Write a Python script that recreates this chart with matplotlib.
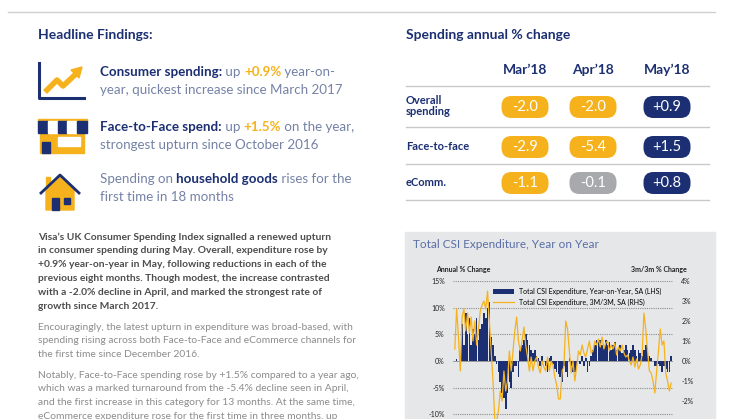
import matplotlib.pyplot as plt
import matplotlib
import numpy as np
from matplotlib.patches import FancyBboxPatch, Rectangle, Polygon

matplotlib.rcParams['font.family'] = 'Lato'

NAVY = '#1b2f72'
GOLD = '#f6b21c'
GREY = '#a7a9ac'
SLATE = '#7582a6'
BODY = '#4d4d4f'
LIGHT = '#8c8c8e'

# ---- data ----
months = ["Mar'18", "Apr'18", "May'18"]
rows = ['Overall\nspending', 'Face-to-face', 'eComm.']
table_vals = [[-2.0, -2.0, 0.9],
              [-2.9, -5.4, 1.5],
              [-1.1, -0.1, 0.8]]

yoy = [0, 0.3, 0, 0,
       7, 3, 9, 5, 8, 3, 6, 5, 8, 4, 6, 7, 9, 8, 10, 11,
       4.5, 3, 1, -0.5,
       -2, -4, -6, -7, -9, -6, -4, -5, -2, -1, -1, -3,
       2, 3, 4, 5, 4, 3, 2, 1.5, 2, 1,
       0.5, -1, 1, 0, -1, -2, 0.5, 1, -0.5, -1.5, -2, -2.5,
       -3, -4, -1, -2, -3, 0.5, -1, -2, -2,
       -1, 0, -0.5, 1, -1, 0.5, -2, -1, 1,
       2, 3, 4, 3.5, 4, 3, 2.5, 4, 3, 3.5, 2, 3, 3.5, 2, 2.5, 3, 1.5, 2, 3, 2,
       1.5, 2, 3, 2, 1, 2, 1.5, 1,
       2, 3, 2.5, 1, 0.5, 0, -1,
       -1, -0.5, -1, -2, -1, -1.5, -2, -2,
       0.9]
m3m = [0.6, 2.6, 1.2, -0.5,
       2.2, 2.6, 1.5, 2.4, 1.4, 2.2, 1.0, 2.0, 0.8, 1.6, 2.5, 2.8, 3.0, 2.6, 3.5, 2.0,
       0.5, -1.0, -3.0, -3.0,
       -2.5, -1.5, -2.0, -0.5, -1.5, -1.0, 0.5, -0.5, 0.5, 1.5, 2.2, 1.0,
       0.5, 1.0, 1.7, 0.8, 0.2, -0.5, 0.2, -0.5, 0.0, 0.2,
       -0.3, -0.6, 0.0, -0.3, -0.5, 0.2, -0.5, 0.0, -0.2, -0.8, -1.2, -1.9,
       -1.9, -0.5, -0.3, 2.0, 1.6, 0.5, -0.6, 0.0, -1.0,
       -0.3, 0.5, 0.3, 0.8, 0.4, 0.2, 0.6, 1.0, 0.4,
       0.5, 1.0, 0.8, 1.1, 0.7, 1.2, 0.6, 0.9, 1.0, 0.5, 0.8, 0.6, 0.9, 0.3, 0.7, 0.5, 0.8, 0.4, 0.2, 0.3,
       0.0, -0.2, 0.2, -0.3, 0.1, -0.4, -0.2, 0.3,
       2.4, 1.6, 0.5, -0.5, -0.6, -1.0, -1.6,
       -0.5, 0.5, 1.6, 0.8, 1.0, -0.6, -1.0, -1.5,
       -1.1]

W, H = 746, 419
fig = plt.figure(figsize=(7.46, 4.19), dpi=100)
fig.patch.set_facecolor('white')

# overlay axes in pixel units (y downwards) for the layout
lay = fig.add_axes([0, 0, 1, 1])
lay.set_xlim(0, W)
lay.set_ylim(H, 0)
lay.axis('off')


def T(x, y, s, **kw):
    kw.setdefault('va', 'center')
    return lay.text(x, y, s, **kw)


def chain(x, y, parts, size):
    # draw text pieces one after another on a line
    r = fig.canvas.get_renderer()
    for s, color, weight in parts:
        t = T(x, y, s, color=color, fontweight=weight, fontsize=size)
        bb = t.get_window_extent(renderer=r)
        x += bb.width


# top rule
lay.plot([8, 715], [12, 12], color='#cfd0d2', lw=1)

# ---- left headline block ----
T(38, 35, 'Headline Findings:', color=NAVY, fontweight='bold', fontsize=10)
sz = 9.6
chain(100, 72, [('Consumer spending:', NAVY, 'bold'), (' up ', SLATE, 'normal'),
                ('+0.9%', GOLD, 'bold'), (' year-on-', SLATE, 'normal')], sz)
T(100, 90, 'year, quickest increase since March 2017', color=SLATE, fontsize=sz)
chain(100, 127, [('Face-to-Face spend:', NAVY, 'bold'), (' up ', SLATE, 'normal'),
                 ('+1.5%', GOLD, 'bold'), (' on the year,', SLATE, 'normal')], sz)
T(100, 145, 'strongest upturn since October 2016', color=SLATE, fontsize=sz)
chain(100, 179, [('Spending on ', SLATE, 'normal'), ('household goods', NAVY, 'bold'),
                 (' rises for the', SLATE, 'normal')], sz)
T(100, 197, 'first time in 18 months', color=SLATE, fontsize=sz)

# icons (simple shapes)
lay.plot([39, 39, 84], [63, 98, 98], color=NAVY, lw=2.2)
lay.plot([45, 57, 63, 77], [92, 80, 86, 73], color=GOLD, lw=4, solid_capstyle='butt')
lay.add_patch(Polygon([[71, 70], [82, 67], [79, 78]], closed=True, color=GOLD))
lay.add_patch(Rectangle((40, 133), 44, 20, color=GOLD))
lay.add_patch(Rectangle((38, 119), 49, 3, color=GOLD))
for i in range(5):
    c = NAVY if i % 2 == 0 else 'white'
    lay.add_patch(Rectangle((38 + i * 9.8, 121), 9.8, 12, color=c))
lay.add_patch(Rectangle((42, 142), 8, 11, color=NAVY))
lay.add_patch(Rectangle((58, 137), 22, 9, color='white'))
lay.add_patch(Polygon([[46, 189], [60, 176], [74, 189], [74, 210], [46, 210]], closed=True, color=GOLD))
lay.add_patch(Rectangle((46, 177), 4, 8, color=GOLD))
lay.plot([41, 60, 79], [193, 175, 193], color=NAVY, lw=2)
lay.add_patch(Rectangle((52, 198), 7, 12, color=NAVY))
lay.add_patch(Rectangle((64, 198), 6, 6, color=NAVY))

# body paragraphs
bold_lines = ["Visa\u2019s UK Consumer Spending Index signalled a renewed upturn",
              "in consumer spending during May. Overall, expenditure rose by",
              "+0.9% year-on-year in May, following reductions in each of the",
              "previous eight months. Though modest, the increase contrasted",
              "with a -2.0% decline in April, and marked the strongest rate of",
              "growth since March 2017."]
for i, s in enumerate(bold_lines):
    T(38, 237 + i * 13.9, s, color=BODY, fontweight='bold', fontsize=7.4)
p2 = ["Encouragingly, the latest upturn in expenditure was broad-based, with",
      "spending rising across both Face-to-Face and eCommerce channels for",
      "the first time since December 2016."]
for i, s in enumerate(p2):
    T(38, 327 + i * 13.9, s, color=LIGHT, fontsize=7.4)
p3 = ["Notably, Face-to-Face spending rose by +1.5% compared to a year ago,",
      "which was a marked turnaround from the -5.4% decline seen in April,",
      "and the first increase in this category for 13 months. At the same time,"]
for i, s in enumerate(p3):
    T(38, 375 + i * 13.9, s, color=LIGHT, fontsize=7.4)
# last line is cut by the page edge in the reference
T(38, 416.7, "eCommerce expenditure rose for the first time in three months, up",
  color=LIGHT, fontsize=7.4, clip_on=True)

# ---- right table ----
T(406, 35, 'Spending annual % change', color=NAVY, fontweight='bold', fontsize=10)
col_x = [525, 593, 667]
row_y = [107, 147, 183]
for x, m in zip(col_x, months):
    T(x, 70, m.replace("'", "\u2019"), color=NAVY, fontweight='bold', fontsize=10, ha='center')
for y in [86, 127, 164, 200]:
    lay.plot([406, 709], [y, y], color='#c8c9cb', lw=1)
for r, (lab, y) in enumerate(zip(rows, row_y)):
    T(406, y - 1, lab, color=NAVY, fontweight='bold', fontsize=8, linespacing=0.95)
    for c, x in enumerate(col_x):
        v = table_vals[r][c]
        if c == 2:
            col = NAVY
        elif abs(v) < 0.5:
            col = GREY
        else:
            col = GOLD
        lay.add_patch(FancyBboxPatch((x - 23.5, y - 11), 47, 22,
                                     boxstyle='round,pad=0,rounding_size=10', color=col, lw=0))
        T(x, y, f'{v:+.1f}' if c == 2 else f'{v:.1f}', color='white', fontsize=10.5, ha='center')

# ---- chart panel ----
lay.add_patch(Rectangle((405, 232), 310, 190, color='#e6e7e8', zorder=0))
T(413, 244, 'Total CSI Expenditure, Year on Year', color='#5a6ea8', fontsize=8.5)
T(436, 269, 'Annual % Change', color='#222222', fontweight='bold', fontsize=5)
T(687, 269, '3m/3m % Change', color='#222222', fontweight='bold', fontsize=5, ha='right')

ax = fig.add_axes([453 / W, 1 - 441 / H, 220 / W, 160 / H])
ax.set_facecolor('none')
x = np.arange(len(yoy))
ax.bar(x, yoy, width=0.9, color=NAVY, label='Total CSI Expenditure, Year-on-Year, SA (LHS)', zorder=2)
ax.set_ylim(-15, 15)
ax.set_xlim(-1, len(yoy))
ax.set_yticks([-10, -5, 0, 5, 10, 15])
ax.set_yticklabels([f'{t}%' for t in [-10, -5, 0, 5, 10, 15]])
for t in [-10, -5, 5, 10, 15]:
    ax.axhline(t, color='#8c8c8c', lw=0.8, ls=(0, (1, 1)), zorder=1)
ax.axhline(0, color='#8c8c8c', lw=0.6, zorder=1)
ax.set_xticks([])
for s in ax.spines.values():
    s.set_visible(False)
ax.tick_params(axis='y', length=0, labelsize=5, colors='#222222', pad=6)
ax2 = ax.twinx()
ax2.plot(x, m3m, color=GOLD, lw=0.9, label='Total CSI Expenditure, 3M/3M, SA (RHS)', zorder=3)
ax2.set_ylim(-4, 4)
ax2.set_yticks(range(-2, 5))
ax2.set_yticklabels([f'{t}%' for t in range(-2, 5)])
ax2.tick_params(axis='y', length=0, labelsize=5, colors='#222222', pad=6)
for s in ax2.spines.values():
    s.set_visible(False)
h1, l1 = ax.get_legend_handles_labels()
h2, l2 = ax2.get_legend_handles_labels()
ax2.legend(h1 + h2, l1 + l2, loc='upper right', bbox_to_anchor=(0.97, 0.99), frameon=False,
           fontsize=5, handlelength=3, borderpad=0.2, labelspacing=0.6)

fig.savefig('out.png', dpi=100)
